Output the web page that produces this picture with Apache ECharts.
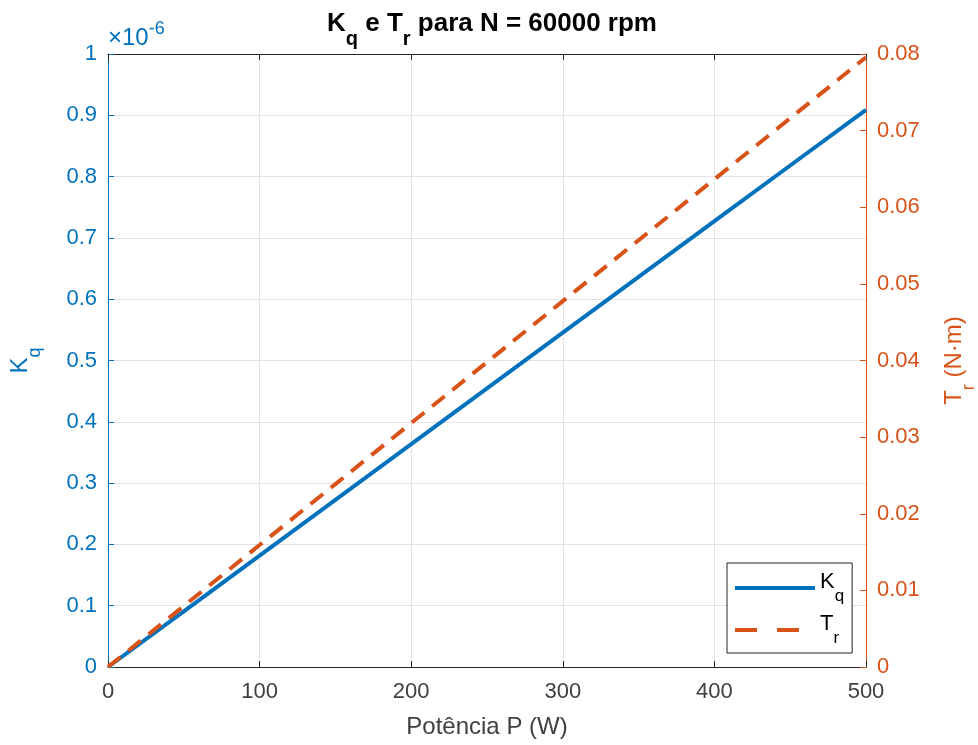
<!DOCTYPE html>
<html>
<head>
<meta charset="utf-8">
<script src="https://cdn.jsdelivr.net/npm/echarts@6/dist/echarts.min.js"></script>
<style>html,body{margin:0;padding:0;background:#fff}#c{width:978px;height:745px}</style>
</head>
<body>
<div id="c"></div>
<script>
// Potência P (W)
const P = [0, 50, 100, 150, 200, 250, 300, 350, 400, 450, 500];
// Kq (in units of 1e-6)
const KQ = [0, 0.0909, 0.1818, 0.2727, 0.3636, 0.4545, 0.5454, 0.6363, 0.7272, 0.8181, 0.909];
// Tr (N·m)
const TR = [0, 0.00796, 0.01592, 0.02387, 0.03183, 0.03979, 0.04775, 0.05570, 0.06366, 0.07162, 0.07958];

const BLUE = '#0072BD', ORANGE = '#D95319', DARK = '#262626', TXT = '#404040';
const FONT = 'Liberation Sans';

function subRich(color, size, subSize, weight) {
  return {
    m: { fontFamily: FONT, fontSize: size, fontWeight: weight, color: color, lineHeight: size + 12, verticalAlign: 'top' },
    s: { fontFamily: FONT, fontSize: subSize, fontWeight: weight, color: color, lineHeight: subSize, verticalAlign: 'bottom' }
  };
}

const chart = echarts.init(document.getElementById('c'));
chart.setOption({
  animation: false,
  textStyle: { fontFamily: FONT },
  title: {
    text: '{m|K}{s|q}{m| e T}{s|r}{m| para N = 60000 rpm}',
    left: 487, textAlign: 'center', top: 6,
    textStyle: { fontSize: 26, fontWeight: 'bold', rich: subRich('#000', 26, 20, 'bold') }
  },
  grid: { left: 108, right: 112, top: 54, bottom: 78, containLabel: false, outerBoundsMode: 'none' },
  legend: {
    orient: 'vertical', left: 727, top: 563,
    backgroundColor: '#fff', borderColor: DARK, borderWidth: 1, borderRadius: 0,
    padding: [8, 8, 6, 6], itemGap: 8, itemWidth: 80, itemHeight: 30,
    itemStyle: { opacity: 0 },
    lineStyle: { width: 4 },
    formatter: n => n === 'Kq' ? '{m|K}{s|q}' : '{m|T}{s|r}',
    textStyle: { fontSize: 22, rich: subRich('#000', 22, 17, 'normal') },
    data: [
      { name: 'Kq', lineStyle: { width: 4, type: 'solid' } },
      { name: 'Tr', lineStyle: { width: 4, type: [22, 20] } }
    ]
  },
  xAxis: [{
    type: 'value', min: 0, max: 500, interval: 100, position: 'bottom',
    name: 'Potência P (W)', nameLocation: 'middle', nameGap: 48,
    nameTextStyle: { fontFamily: FONT, fontSize: 24, color: TXT },
    axisLine: { show: true, onZero: false, lineStyle: { color: DARK, width: 1 } },
    axisTick: { show: true, inside: true, length: 6, lineStyle: { color: DARK } },
    axisLabel: { fontFamily: FONT, fontSize: 22, color: TXT, margin: 14 },
    splitLine: { show: true, lineStyle: { color: '#e3e3e3', width: 1 } }
  }, {
    type: 'value', min: 0, max: 500, interval: 100, position: 'top',
    axisLine: { show: true, onZero: false, lineStyle: { color: DARK, width: 1 } },
    axisTick: { show: true, inside: true, length: 6, lineStyle: { color: DARK } },
    axisLabel: { show: false }, splitLine: { show: false }
  }],
  yAxis: [{
    type: 'value', min: 0, max: 1, interval: 0.1, position: 'left',
    name: '{m|K}{s|q}', nameLocation: 'middle', nameGap: 64, nameRotate: 90,
    nameTextStyle: { fontSize: 24, rich: subRich(BLUE, 24, 18, 'normal') },
    axisLine: { show: true, onZero: false, lineStyle: { color: BLUE, width: 1 } },
    axisTick: { show: true, inside: true, length: 6, lineStyle: { color: BLUE } },
    axisLabel: { fontFamily: FONT, fontSize: 22, color: BLUE, margin: 11 },
    splitLine: { show: true, lineStyle: { color: '#e3e3e3', width: 1 } }
  }, {
    type: 'value', min: 0, max: 0.08, interval: 0.01, position: 'right',
    name: '{m|T}{s|r}{m| (N·m)}', nameLocation: 'middle', nameGap: 76, nameRotate: 90,
    nameTextStyle: { fontSize: 24, rich: subRich(ORANGE, 24, 18, 'normal') },
    axisLine: { show: true, onZero: false, lineStyle: { color: ORANGE, width: 1 } },
    axisTick: { show: true, inside: true, length: 6, lineStyle: { color: ORANGE } },
    axisLabel: { fontFamily: FONT, fontSize: 22, color: ORANGE, margin: 11 },
    splitLine: { show: false }
  }],
  graphic: [{
    type: 'text', left: 108, top: 20,
    style: {
      text: '{a|×10}{b|-6}',
      rich: {
        a: { fontFamily: FONT, fontSize: 24, fill: BLUE, lineHeight: 30, verticalAlign: 'bottom' },
        b: { fontFamily: FONT, fontSize: 18, fill: BLUE, lineHeight: 16, verticalAlign: 'top' }
      }
    }
  }],
  series: [{
    name: 'Kq', type: 'line', xAxisIndex: 0, yAxisIndex: 0,
    data: P.map((p, i) => [p, KQ[i]]),
    showSymbol: false, symbol: 'none',
    lineStyle: { color: BLUE, width: 4 }, itemStyle: { color: BLUE }
  }, {
    name: 'Tr', type: 'line', xAxisIndex: 0, yAxisIndex: 1,
    data: P.map((p, i) => [p, TR[i]]),
    showSymbol: false, symbol: 'none',
    lineStyle: { color: ORANGE, width: 4, type: [16, 10] }, itemStyle: { color: ORANGE }
  }]
});
</script>
</body>
</html>
